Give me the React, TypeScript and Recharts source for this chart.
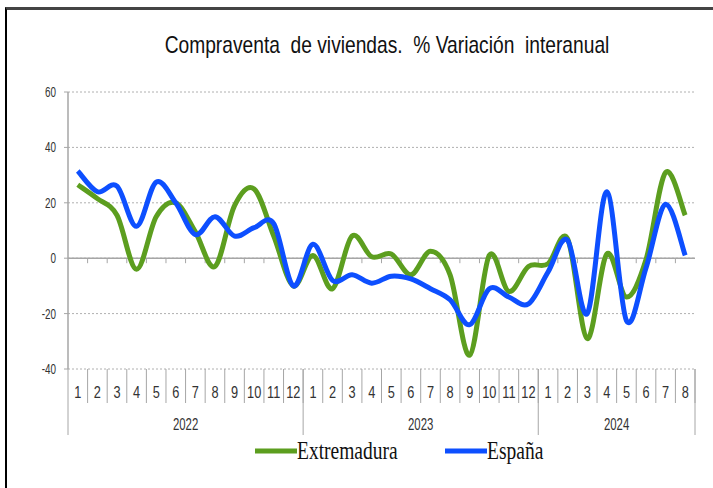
import { CartesianGrid, Line, LineChart, ReferenceLine, XAxis, YAxis } from 'recharts'

// meses y años del eje horizontal
const months = [1, 2, 3, 4, 5, 6, 7, 8, 9, 10, 11, 12, 1, 2, 3, 4, 5, 6, 7, 8, 9, 10, 11, 12, 1, 2, 3, 4, 5, 6, 7, 8]
const years = [
  '2022', '2022', '2022', '2022', '2022', '2022', '2022', '2022', '2022', '2022', '2022', '2022',
  '2023', '2023', '2023', '2023', '2023', '2023', '2023', '2023', '2023', '2023', '2023', '2023',
  '2024', '2024', '2024', '2024', '2024', '2024', '2024', '2024',
]

// % variación interanual
const extremadura = [
  26.5, 21.5, 15.5, -4, 15, 20, 9.5, -3, 19, 25, 8, -10,
  1, -11, 8, 0.5, 1.5, -6, 2.5, -6, -35, 1, -12, -3,
  -2, 7, -29, 1.5, -14, -0.5, 31, 15.5,
]
const espana = [
  31.5, 24, 26, 11.5, 27.5, 20, 8.5, 15, 8, 11, 12.5, -10,
  5, -8, -6, -9, -6.5, -7.5, -11, -15, -24, -11, -14, -16.5,
  -5, 6.5, -20, 24, -22.5, -3.5, 19.5, 1,
]

const yTicks = [-40, -20, 0, 20, 40, 60]

const series = [
  { key: 'ext', name: 'Extremadura', color: '#5c9e1f' },
  { key: 'esp', name: 'España', color: '#0d4fff' },
]

const rows = months.map((m, i) => ({
  id: `${years[i]}-${m}`,
  month: m,
  year: years[i],
  ext: extremadura[i],
  esp: espana[i],
}))

const axisGray = '#a6a6a6'
const sans = '"Liberation Sans", Arial, sans-serif'

// suavizado tipo Excel (bezier catmull-rom)
function excelSmooth(context: any) {
  let pts: number[][] = []
  return {
    areaStart() {},
    areaEnd() {},
    lineStart() {
      pts = []
    },
    lineEnd() {
      if (!pts.length) return
      context.moveTo(pts[0][0], pts[0][1])
      for (let i = 0; i < pts.length - 1; i++) {
        const p0 = pts[i - 1] || pts[i]
        const p1 = pts[i]
        const p2 = pts[i + 1]
        const p3 = pts[i + 2] || p2
        context.bezierCurveTo(
          p1[0] + (p2[0] - p0[0]) / 6,
          p1[1] + (p2[1] - p0[1]) / 6,
          p2[0] - (p3[0] - p1[0]) / 6,
          p2[1] - (p3[1] - p1[1]) / 6,
          p2[0],
          p2[1],
        )
      }
    },
    point(x: number, y: number) {
      pts.push([+x, +y])
    },
  }
}

function YTick({ x, y, payload }: any) {
  return (
    <text transform={`translate(${x},${y + 5}) scale(0.66,1)`} textAnchor="end" fontSize={15} fill="#333" fontFamily={sans}>
      {payload.value}
    </text>
  )
}

function MonthTick({ x, y, payload, index }: any) {
  const half = payload.offset || 9.8
  return (
    <g>
      <text transform={`translate(${x},${y + 29}) scale(0.75,1)`} textAnchor="middle" fontSize={17} fill="#333" fontFamily={sans}>
        {months[index]}
      </text>
      <line x1={x + half} x2={x + half} y1={y} y2={y + 34} stroke={axisGray} />
    </g>
  )
}

function YearTick({ x, y, payload, index }: any) {
  const half = payload.offset || 9.8
  const yr = years[index]
  const first = index === 0 || years[index - 1] !== yr
  const last = index === years.length - 1
  const n = years.filter((v) => v === yr).length
  return (
    <g>
      {first && <line x1={x - half} x2={x - half} y1={y - 34} y2={y + 32} stroke={axisGray} />}
      {first && (
        <text
          transform={`translate(${x - half + n * half},${y + 27}) scale(0.67,1)`}
          textAnchor="middle"
          fontSize={17}
          fill="#333"
          fontFamily={sans}
        >
          {yr}
        </text>
      )}
      {last && <line x1={x + half} x2={x + half} y1={y - 34} y2={y + 32} stroke={axisGray} />}
    </g>
  )
}

function ZeroLine({ x1, x2, y1 }: any) {
  const step = (x2 - x1) / rows.length
  return (
    <g>
      <line x1={x1} x2={x2} y1={y1} y2={y1} stroke={axisGray} strokeWidth={1.5} />
      {rows.slice(1).map((_, i) => (
        <line key={i} x1={x1 + step * (i + 1)} x2={x1 + step * (i + 1)} y1={y1} y2={y1 + 5} stroke={axisGray} />
      ))}
    </g>
  )
}

export default function App() {
  return (
    <div style={{ position: 'fixed', left: 0, top: 0, width: 713, height: 488, background: '#fff', overflow: 'hidden' }}>
      <div
        style={{
          position: 'absolute',
          left: 5,
          top: 7,
          right: -10,
          bottom: -10,
          borderTop: '3px solid #444',
          borderLeft: '2px solid #000',
        }}
      />
      <div
        style={{
          position: 'absolute',
          left: 387,
          top: 33,
          transform: 'translateX(-50%) scaleX(0.8)',
          fontSize: 24,
          lineHeight: '24px',
          whiteSpace: 'pre',
          fontFamily: sans,
          color: '#111',
        }}
      >
        {'Compraventa  de viviendas.  % Variación  interanual'}
      </div>
      <div style={{ position: 'absolute', left: 0, top: 0 }}>
        <LineChart width={713} height={488} data={rows} margin={{ top: 92, right: 18, bottom: 0, left: 8 }}>
          <CartesianGrid xAxisId="m" vertical={false} stroke="#b0b0b0" strokeDasharray="2 2" />
          <XAxis
            xAxisId="m"
            dataKey="id"
            scale="band"
            height={34}
            axisLine={false}
            tickLine={false}
            tickSize={0}
            tickMargin={0}
            interval={0}
            tick={<MonthTick />}
          />
          <XAxis
            xAxisId="y"
            dataKey="id"
            scale="band"
            height={85}
            axisLine={false}
            tickLine={false}
            tickSize={0}
            tickMargin={0}
            interval={0}
            tick={<YearTick />}
          />
          <YAxis
            width={60}
            domain={[-40, 60]}
            ticks={yTicks}
            interval={0}
            axisLine={{ stroke: axisGray, strokeWidth: 1.5 }}
            tickLine={{ stroke: axisGray }}
            tickSize={4}
            tickMargin={8}
            tick={<YTick />}
          />
          <ReferenceLine xAxisId="m" y={0} shape={(p: any) => <ZeroLine {...p} />} />
          {series.map((s) => (
            <Line
              key={s.key}
              xAxisId="m"
              dataKey={s.key}
              name={s.name}
              stroke={s.color}
              strokeWidth={5}
              dot={false}
              type={excelSmooth as any}
              isAnimationActive={false}
            />
          ))}
        </LineChart>
      </div>
      <svg style={{ position: 'absolute', left: 0, top: 430 }} width={713} height={40}>
        {series.map((s, i) => {
          const x0 = i === 0 ? 255 : 445
          return (
            <g key={s.key}>
              <line x1={x0} x2={x0 + 42} y1={21} y2={21} stroke={s.color} strokeWidth={5} />
              <text
                transform={`translate(${x0 + 42},29) scale(0.75,1)`}
                fontSize={26}
                fill="#111"
                fontFamily='"Liberation Serif", "Times New Roman", serif'
              >
                {s.name}
              </text>
            </g>
          )
        })}
      </svg>
    </div>
  )
}
